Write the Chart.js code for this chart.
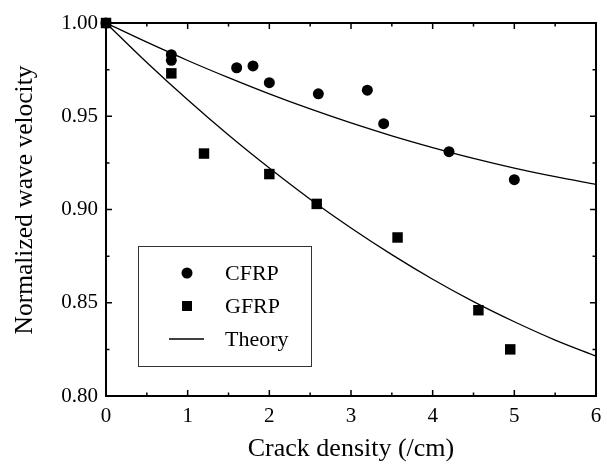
<!DOCTYPE html>
<html>
<head>
<meta charset="utf-8">
<script src="https://cdn.jsdelivr.net/npm/chart.js@4.4.1/dist/chart.umd.min.js"></script>
<style>
  html, body { margin: 0; padding: 0; background: #fff; }
  #wrap { width: 607px; height: 465px; }
</style>
</head>
<body>
<div id="wrap"><canvas id="chart"></canvas></div>
<script>
// measured points
const cfrpX = [0, 0.8, 0.8, 1.6, 1.8, 2.0, 2.6, 3.2, 3.4, 4.2, 5.0];
const cfrpY = [1.000, 0.983, 0.980, 0.976, 0.977, 0.968, 0.962, 0.964, 0.946, 0.931, 0.916];
const gfrpX = [0, 0.8, 1.2, 2.0, 2.58, 3.57, 4.56, 4.95];
const gfrpY = [1.000, 0.973, 0.930, 0.919, 0.903, 0.885, 0.846, 0.825];

// theory curves, every 0.5 /cm
const theoryX    = [0, 0.5, 1, 1.5, 2, 2.5, 3, 3.5, 4, 4.5, 5, 5.5, 6];
const theoryCfrp = [1.000, 0.9897, 0.9799, 0.9707, 0.9620, 0.9539, 0.9464, 0.9395, 0.9332, 0.9274, 0.9222, 0.9176, 0.9135];
const theoryGfrp = [1.000, 0.9788, 0.9588, 0.9399, 0.9222, 0.9055, 0.8901, 0.8758, 0.8626, 0.8506, 0.8398, 0.8300, 0.8214];

const xTicks = [0, 1, 2, 3, 4, 5, 6];
const yTicks = [0.80, 0.85, 0.90, 0.95, 1.00];
const legendNames = ['CFRP', 'GFRP', 'Theory'];

const FONT = "'Liberation Serif', 'Times New Roman', serif";

const pts = (xs, ys) => xs.map((v, i) => ({ x: v, y: ys[i] }));

// frame, inward ticks, axis titles and legend
const decor = {
  id: 'decor',
  afterDraw(chart) {
    const { ctx, chartArea: a, scales: { x, y } } = chart;
    ctx.save();
    ctx.strokeStyle = '#000';
    ctx.lineWidth = 1.5;
    for (let v = 0; v <= 6.001; v += 0.5) {
      const px = x.getPixelForValue(v);
      const len = Math.abs(v - Math.round(v)) < 1e-6 ? 6 : 3.5;
      ctx.beginPath();
      ctx.moveTo(px, a.bottom); ctx.lineTo(px, a.bottom - len);
      ctx.moveTo(px, a.top); ctx.lineTo(px, a.top + len);
      ctx.stroke();
    }
    for (let i = 0; i <= 8; i++) {
      const v = 0.8 + i * 0.025;
      const py = y.getPixelForValue(v);
      const len = i % 2 === 0 ? 6 : 3.5;
      ctx.beginPath();
      ctx.moveTo(a.left, py); ctx.lineTo(a.left + len, py);
      ctx.moveTo(a.right, py); ctx.lineTo(a.right - len, py);
      ctx.stroke();
    }
    ctx.lineWidth = 2;
    ctx.strokeRect(a.left, a.top, a.right - a.left, a.bottom - a.top);

    // axis titles
    ctx.fillStyle = '#000';
    ctx.font = '26px ' + FONT;
    ctx.textAlign = 'center';
    ctx.textBaseline = 'middle';
    ctx.fillText('Crack density (/cm)', (a.left + a.right) / 2, 449);
    ctx.save();
    ctx.font = '25.5px ' + FONT;
    ctx.translate(25, 200);
    ctx.rotate(-Math.PI / 2);
    ctx.fillText('Normalized wave velocity', 0, 0);
    ctx.restore();

    // legend
    ctx.lineWidth = 1;
    ctx.strokeStyle = '#333';
    ctx.strokeRect(138.5, 246.5, 173, 120);
    ctx.font = '22px ' + FONT;
    ctx.textAlign = 'left';
    const rows = [273, 306, 339];
    ctx.beginPath();
    ctx.arc(187, rows[0], 5.5, 0, Math.PI * 2);
    ctx.fill();
    ctx.fillRect(182, rows[1] - 5, 10, 10);
    ctx.strokeStyle = '#000';
    ctx.lineWidth = 1.3;
    ctx.beginPath();
    ctx.moveTo(169, rows[2]); ctx.lineTo(204, rows[2]);
    ctx.stroke();
    legendNames.forEach((n, i) => ctx.fillText(n, 225, rows[i] + 1));
    ctx.restore();
  }
};

const theoryStyle = {
  type: 'line',
  borderColor: '#000',
  borderWidth: 1.3,
  pointRadius: 0,
  cubicInterpolationMode: 'monotone',
  fill: false
};

function noPad(s) {
  s.paddingLeft = 0; s.paddingRight = 0;
  s.paddingTop = 0; s.paddingBottom = 0;
}

new Chart(document.getElementById('chart'), {
  data: {
    datasets: [
      Object.assign({ label: 'Theory CFRP', data: pts(theoryX, theoryCfrp) }, theoryStyle),
      Object.assign({ label: 'Theory GFRP', data: pts(theoryX, theoryGfrp) }, theoryStyle),
      {
        type: 'scatter', label: 'CFRP', data: pts(cfrpX, cfrpY),
        pointStyle: 'circle', pointRadius: 5.5, backgroundColor: '#000', borderWidth: 0, clip: false
      },
      {
        type: 'scatter', label: 'GFRP', data: pts(gfrpX, gfrpY),
        pointStyle: 'rect', pointRadius: 7.4, backgroundColor: '#000', borderWidth: 0, clip: false
      }
    ]
  },
  plugins: [decor],
  options: {
    responsive: true,
    maintainAspectRatio: false,
    animation: false,
    layout: { padding: { left: 0, top: 23, right: 11, bottom: 0 } },
    plugins: { legend: { display: false }, tooltip: { enabled: false } },
    scales: {
      x: {
        type: 'linear', min: 0, max: 6,
        afterFit: s => { s.height = 69; noPad(s); },
        afterBuildTicks: s => { s.ticks = xTicks.map(v => ({ value: v })); },
        grid: { display: false, drawTicks: false },
        border: { display: false },
        ticks: { color: '#000', padding: 8, font: { family: FONT, size: 21 } }
      },
      y: {
        type: 'linear', min: 0.8, max: 1.0,
        afterFit: s => { s.width = 106; noPad(s); },
        afterBuildTicks: s => { s.ticks = yTicks.map(v => ({ value: v })); },
        grid: { display: false, drawTicks: false },
        border: { display: false },
        ticks: { color: '#000', padding: 8, font: { family: FONT, size: 21 },
          callback: v => v.toFixed(2) }
      }
    }
  }
});
</script>
</body>
</html>
